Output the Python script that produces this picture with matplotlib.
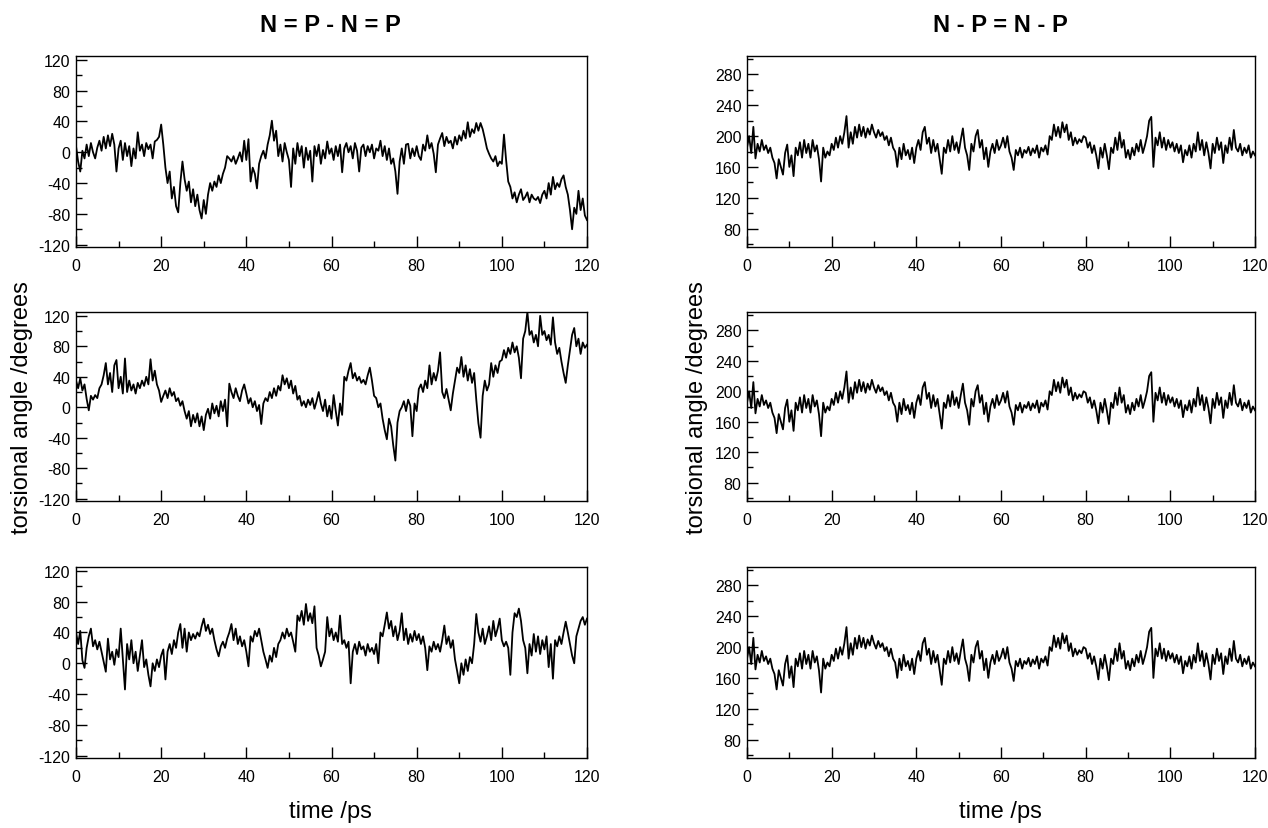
import matplotlib
matplotlib.use("Agg")
import matplotlib.pyplot as plt
from matplotlib.ticker import MultipleLocator
import numpy as np

plt.rcParams["font.family"] = ["Liberation Sans", "DejaVu Sans"]
plt.rcParams["axes.unicode_minus"] = False

# time axis (ps), sampled every 0.5 ps
t_ps = np.arange(0, 120.5, 0.5)

# N=P-N=P torsions (degrees)
npnp_top = [
    8, -12, -25, 2, -8, 10, -5, 12, 0, -8, 6, 15, 2, 20, 5, 22, 8, 24, 10, -25,
    5, 15, -10, 12, -5, 8, -18, 5, -8, 26, 2, 10, -5, 12, 4, 10, -8, 14, 16, 20,
    36, 10, -20, -40, -25, -60, -45, -70, -78, -40, -12, -35, -50, -38, -65, -48, -70, -55, -75, -86,
    -62, -80, -55, -40, -50, -38, -45, -30, -40, -28, -20, -5, -8, -12, -5, -15, -8, 0, -12, 15,
    -10, 17, -38, -20, -28, -47, -15, -5, 2, -8, 10, 22, 41, 15, 28, -5, 10, -12, 12, 0,
    -10, -45, 5, -15, 12, -5, 8, -20, 6, -10, 2, -38, 8, -5, 10, -15, 3, -8, 14, -2,
    5, -10, 8, -5, 10, -26, 5, 12, 0, 8, -8, 12, 2, -25, 6, 10, -5, 8, 0, 10,
    -8, 5, 2, 15, -5, 8, -10, 5, -15, -8, -25, -54, -12, 5, -15, 10, 11, -8, 5, -5,
    8, -5, -10, 10, 2, 22, 5, 12, -2, -26, 10, 18, 25, 8, 20, 12, 15, 5, 20, 10,
    22, 15, 28, 18, 39, 20, 30, 25, 38, 28, 38, 30, 18, 5, -2, -8, -12, -5, -18, -12,
    -15, 23, -10, -38, -45, -60, -52, -65, -55, -48, -62, -58, -52, -65, -55, -60, -62, -58, -66, -55,
    -50, -60, -40, -55, -32, -48, -40, -45, -35, -30, -45, -55, -75, -100, -72, -80, -50, -75, -60, -82,
    -88,
]
npnp_mid = [
    35, 25, 38, 22, 30, 11, -4, 15, 10, 16, 12, 25, 30, 42, 58, 30, 45, 20, 55, 62,
    25, 40, 18, 64, 20, 35, 22, 30, 18, 32, 25, 35, 28, 40, 30, 63, 35, 48, 30, 22,
    7, 15, 22, 12, 25, 15, 20, 8, 12, 2, 8, -5, -15, -5, -25, -10, -20, -8, -25, -12,
    -30, -10, -2, -15, 5, -8, 2, -12, 8, -5, 10, -25, 31, 20, 12, 25, 15, 8, 22, 30,
    18, 5, 12, 0, 8, -5, 3, -22, 5, 12, 8, 20, 12, 25, 15, 28, 22, 42, 30, 38,
    25, 35, 18, 28, 10, 15, 2, 8, 0, 10, 3, 12, -2, 8, 20, 5, -5, 10, -12, 2,
    -15, 16, -5, -24, 5, -10, 40, 35, 48, 58, 38, 45, 35, 40, 32, 36, 30, 42, 52, 35,
    15, 12, 0, 5, -15, -30, -42, -15, -25, -50, -70, -20, -5, 0, 8, -5, 10, 2, -38, 5,
    -5, 24, 30, 20, 35, 25, 55, 30, 45, 35, 48, 72, 20, 12, 24, 10, -4, 18, 35, 52,
    45, 66, 40, 55, 35, 50, 32, 45, 10, -21, -40, 15, 35, 22, 30, 58, 40, 55, 45, 60,
    62, 75, 65, 78, 70, 85, 72, 80, 65, 38, 90, 100, 125, 95, 100, 85, 95, 80, 120, 95,
    100, 88, 95, 82, 118, 85, 70, 78, 60, 45, 32, 55, 75, 95, 104, 80, 90, 70, 85, 78,
    82,
]
npnp_bot = [
    40, 25, 42, 4, -6, 20, 35, 45, 22, 30, 18, 28, 15, 2, -11, 32, 5, 15, -2, 18,
    8, 45, 5, -34, 25, 5, 30, 0, 15, -10, 10, 30, -5, 5, -15, -30, 0, -10, 5, -5,
    10, 18, -21, 15, 25, 12, 30, 20, 40, 51, 20, 45, 15, 40, 30, 38, 32, 40, 35, 48,
    58, 42, 50, 38, 45, 30, 18, 9, 22, 28, 20, 32, 40, 51, 30, 45, 25, 35, 22, 30,
    15, -4, 35, 28, 42, 35, 45, 30, 15, 5, -6, 10, 2, 20, 8, 25, 30, 40, 32, 45,
    35, 40, 28, 15, 62, 55, 68, 50, 77, 55, 65, 52, 74, 20, 10, -4, 5, 15, 60, 35,
    45, 30, 40, 28, 62, 25, 30, 20, 28, -26, 15, 25, 12, 28, 18, 22, 10, 25, 15, 20,
    12, 25, 0, 40, 35, 50, 66, 45, 55, 35, 48, 30, 42, 65, 30, 45, 25, 38, 28, 42,
    30, 38, 25, 35, 20, -9, 22, 15, 28, 18, 25, 15, 30, 49, 25, 35, 20, 30, 5, -10,
    -26, 0, -15, 5, -10, 8, 0, 25, 64, 40, 28, 45, 25, 35, 48, 30, 55, 35, 45, 58,
    30, 22, 28, 20, -15, 40, 65, 60, 71, 55, 30, 20, -13, 25, 10, 38, 15, 35, 12, 30,
    18, 35, -5, 25, -20, 30, 22, 35, 25, 40, 54, 40, 25, 10, 0, 35, 45, 55, 60, 50,
    58,
]

# N-P=N-P torsion (degrees); the three right panels show the same trace
npnp_single = [
    185, 200, 178, 212, 171, 190, 180, 195, 182, 188, 178, 185, 172, 165, 145, 170, 160, 150, 178, 189,
    160, 175, 148, 185, 175, 192, 172, 195, 178, 190, 172, 195, 180, 188, 170, 141, 185, 172, 180, 175,
    190, 182, 198, 185, 200, 190, 205, 226, 185, 205, 190, 212, 198, 215, 200, 212, 198, 210, 202, 215,
    205, 198, 208, 200, 205, 195, 200, 188, 198, 185, 180, 160, 185, 170, 190, 175, 182, 170, 185, 165,
    185, 195, 182, 205, 212, 190, 198, 178, 195, 180, 190, 170, 151, 185, 178, 195, 180, 200, 182, 192,
    178, 195, 210, 185, 175, 156, 190, 180, 200, 208, 185, 195, 170, 185, 160, 180, 190, 178, 195, 182,
    188, 198, 185, 200, 180, 172, 156, 182, 175, 185, 172, 182, 178, 186, 175, 184, 178, 188, 172, 185,
    180, 188, 176, 200, 195, 215, 200, 212, 198, 218, 205, 215, 195, 205, 188, 198, 190, 196, 192, 200,
    198, 185, 192, 178, 188, 175, 158, 185, 172, 190, 175, 157, 185, 178, 198, 182, 205, 185, 195, 172,
    182, 170, 185, 175, 190, 180, 195, 178, 188, 200, 220, 225, 160, 198, 188, 205, 185, 198, 182, 195,
    185, 192, 180, 190, 178, 188, 166, 182, 175, 188, 172, 190, 180, 205, 182, 195, 175, 192, 178, 158,
    190, 178, 198, 182, 192, 165, 188, 178, 198, 182, 208, 185, 180, 190, 175, 185, 178, 188, 172, 180,
    175,
]

left_series = [npnp_top, npnp_mid, npnp_bot]
right_series = [npnp_single, npnp_single, npnp_single]

W, H = 1268, 829
fig = plt.figure(figsize=(W / 100, H / 100), dpi=100)

# axes boxes in pixels: (top, bottom)
rows_px = [(57, 248), (313, 502), (568, 759)]
left_px = (76, 587)
right_px = (747, 1255)


def make_axes(xpx, ypx):
    x0, x1 = xpx
    y0, y1 = ypx
    return fig.add_axes([x0 / W, 1 - y1 / H, (x1 - x0) / W, (y1 - y0) / H])


def style_axes(ax, ylim, ymaj):
    ax.set_xlim(0, 120)
    ax.set_ylim(*ylim)
    ax.xaxis.set_major_locator(MultipleLocator(20))
    ax.xaxis.set_minor_locator(MultipleLocator(10))
    ax.set_yticks(ymaj)
    ax.yaxis.set_minor_locator(MultipleLocator(20))
    ax.tick_params(which="both", direction="in", top=False, right=False,
                   labelsize=11.5, width=1.0)
    ax.tick_params(axis="x", pad=8)
    ax.tick_params(axis="y", pad=4)
    ax.tick_params(which="major", length=8)
    ax.tick_params(which="minor", length=4)
    for s in ax.spines.values():
        s.set_linewidth(1.0)


for ypx, ys in zip(rows_px, left_series):
    ax = make_axes(left_px, ypx)
    ax.plot(t_ps, ys, color="black", lw=1.3)
    style_axes(ax, (-123, 125), [-120, -80, -40, 0, 40, 80, 120])

for ypx, ys in zip(rows_px, right_series):
    ax = make_axes(right_px, ypx)
    ax.plot(t_ps, ys, color="black", lw=1.3)
    style_axes(ax, (56, 304), [80, 120, 160, 200, 240, 280])

fig.text(330 / W, 1 - 25 / H, "N = P - N = P", ha="center", va="center",
         fontsize=17, fontweight="bold")
fig.text(1000 / W, 1 - 25 / H, "N - P = N - P", ha="center", va="center",
         fontsize=17, fontweight="bold")
fig.text(22 / W, 1 - 408 / H, "torsional angle /degrees", rotation=90,
         ha="center", va="center", fontsize=17)
fig.text(697 / W, 1 - 408 / H, "torsional angle /degrees", rotation=90,
         ha="center", va="center", fontsize=17)
fig.text(330 / W, 1 - 812 / H, "time /ps", ha="center", va="center", fontsize=17)
fig.text(1000 / W, 1 - 812 / H, "time /ps", ha="center", va="center", fontsize=17)

fig.savefig("out.png", dpi=100)
